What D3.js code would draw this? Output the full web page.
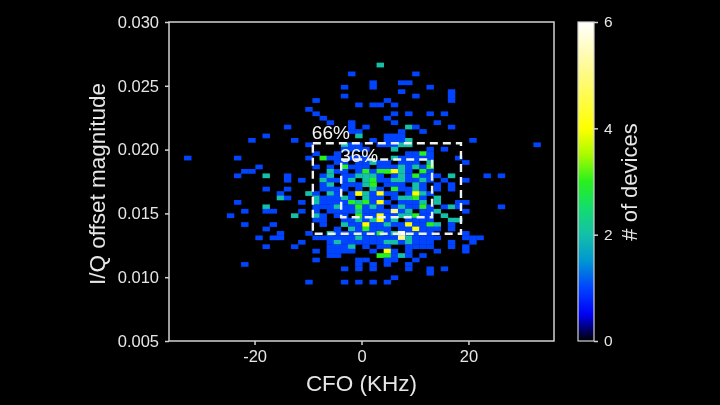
<!DOCTYPE html>
<html>
<head>
<meta charset="utf-8">
<script src="https://cdnjs.cloudflare.com/ajax/libs/d3/7.8.5/d3.min.js"></script>
<style>
  html, body { margin: 0; padding: 0; background: #000; }
  svg { display: block; filter: blur(0.5px); }
  text { font-family: "Liberation Sans", Arial, sans-serif; fill: #e6e6e6; }
</style>
</head>
<body>
<div id="chart"></div>
<script>
// bins: 54 columns over the CFO range, 72 rows over the I/Q range (row 0 is the top)
const colCount = 54;
const rowCount = 72;
const xDomain = [-36, 36];
const yDomain = [0.005, 0.03];
const xTicks = [-20, 0, 20];
const yTicks = [0.005, 0.01, 0.015, 0.02, 0.025, 0.03];
const colorTicks = [0, 2, 4, 6];

// occupied rows, and the columns in each ("col" means 1 device, "col:n" means n)
const rowIndex = [9, 11, 13, 14, 15, 16, 17, 18, 19, 20, 21, 22, 23, 24, 25, 26, 27, 28, 29, 30,
  31, 32, 33, 34, 35, 36, 37, 38, 39, 40, 41, 42, 43, 44, 45, 46, 47, 48, 49, 50, 51, 52, 53, 54, 55, 56, 57, 58];
const rowCells = [
  "29:2",
  "25 34",
  "28 32 33",
  "24 28 36",
  "32 39",
  "24 34 39",
  "20 30 39",
  "26 28 29 31",
  "19",
  "20 31 33 36 38",
  "21 30",
  "22 25 31 37",
  "16 25 27 33:2 34 39",
  "25 26 32 35",
  "13 26:2 30 31 32",
  "11 17 28 30 31 32 33:2 42",
  "19 24:2 25 26 29 30 31 32:2 33:2 51",
  "24 25 26 27 31:2 36 38",
  "20 23 33 34 35:3 36",
  "2 9 19 21:3 22 23 25 26 27 31:2 32 33 34 35 36 40",
  "23 24 26 27 28:2 29 30 32 33 34 36:2 41",
  "12 20 22 24:3 25 26 27 29 30 31 32:2 33 34:2 35 36:3",
  "10 11 22:2 23 24 26 27:3 28 29:3 30:3 31:4 32:2 33 35:3 36",
  "9 13:2 16 21 22:2 24 25 26:2 27:2 28:2 29 31 32:2 33 34:3 35 36 37 39:2 44 46",
  "16 18 21:2 22 23 24 25:2 27:2 28:3 29 30 31:2 32:2 33 34 35:2 36 38 41",
  "21 22:2 24 25 26 27:2 28:3 30 31 32 34:2 35 37 39",
  "13 16 21 22 23 24 26 28:2 29 31:3 32 33 34:2 35 37 39",
  "15 19:2 20 22:2 23 25 26:4 27:2 28 29:4 30 31 33 34:4 35:2 36",
  "15:2 16 20:2 21 22 23 24:2 25 27:2 28 29 31 32:2 33:2 34:3 35 37:2",
  "9 18 20:2 21 22 23 24 25:3 26:2 27:3 28 29:4 30 32 33 34 35:2 37:2 40 41",
  "13:2 20 21 22 23:2 24 25 26:3 27 28:2 29 31 32:2 33 34 35:3 36 38 39:2 40 46",
  "10 13 14 18 20 22 23 24 25 26:2 27 28 29 30 31:5 32 33:2 35 36 37:2 41",
  "8 17:2 20:2 21 23 24 26:3 27 28 29:4 30 31 32:2 33:2 34:3 35 36 38:2",
  "20 21 24 25 26:2 27 28:2 29:4 30 31:2 33 34 35 36 39:2 40:2",
  "10 14 21 24:2 25 26 27:4 28 29 30:2 31 32 33:4 34 35 36:3 37:2 39",
  "13 23 25:2 26 27:3 28 29 30 32 33 34:4 35 36 37 39",
  "15 19 22:2 23 24 25 26 27 28 29:3 30 31:2 32:6 33 34 35 36 41",
  "12 14 15 20 21 22 23 24 25 26:2 27 28 29 30 31 32:5 33:2 34 35 36 37 41 42 43",
  "18 22 23:2 24 25 26 27 28 29 30:2 31:2 32 33:2 34 35 36 39 42",
  "13 17 22 23 24 25:2 27 29 30 33 34 35 36 39 41",
  "20 22 23 24 25 28 30:4 31 33 37 41",
  "22 23 29:3 30:3 31 32:2 33 35",
  "20 26 27 30 31 34",
  "10 26 28 30 33",
  "24 26 28 33 36 38",
  "36",
  "31",
  "19 24 26 28 30"
];

// colormap anchors
const colorStops = [0, 0.5, 1, 1.5, 2, 2.5, 3, 3.5, 4, 5, 6];
const colorValues = ["#000000", "#0000f5", "#0044ff", "#0096d2", "#14c0a8", "#14dc6e", "#28f01e", "#aafa00", "#ffff00", "#fffa82", "#ffffff"];

// the two dashed boxes: [cfo left, cfo right, offset bottom, offset top]
const boxNames = ["66%", "36%"];
const boxOuter = [-9.1, 18.6, 0.0134, 0.0205];
const boxInner = [-3.8, 13.2, 0.0147, 0.01922];
const labelLift = [4, -2.5];

const width = 720;
const height = 405;
const margin = {top: 22, left: 169, bottom: 64, right: 166};

const x = d3.scaleLinear().domain(xDomain).range([margin.left, width - margin.right]);
const y = d3.scaleLinear().domain(yDomain).range([height - margin.bottom, margin.top]);
const color = d3.scaleLinear().domain(colorStops).range(colorValues);

const binW = (xDomain[1] - xDomain[0]) / colCount;
const binH = (yDomain[1] - yDomain[0]) / rowCount;

const cells = [];
rowIndex.forEach((row, i) => {
  rowCells[i].split(" ").forEach(tok => {
    const parts = tok.split(":");
    cells.push({col: +parts[0], row: row, value: parts[1] ? +parts[1] : 1});
  });
});

const svg = d3.select("#chart").append("svg").attr("width", width).attr("height", height);

svg.append("rect").attr("width", width).attr("height", height).attr("fill", "#000");

svg.append("g")
  .selectAll("rect").data(cells).enter().append("rect")
  .attr("x", d => x(xDomain[0] + d.col * binW) + 0.8)
  .attr("y", d => y(yDomain[1] - d.row * binH) + 0.8)
  .attr("width", x(binW) - x(0) + 0.3)
  .attr("height", y(0) - y(binH) + 0.3)
  .attr("fill", d => color(d.value));

// frame
svg.append("rect")
  .attr("x", x.range()[0]).attr("y", y.range()[1])
  .attr("width", x.range()[1] - x.range()[0])
  .attr("height", y.range()[0] - y.range()[1])
  .attr("fill", "none").attr("stroke", "#d2d2d2").attr("stroke-width", 1.5);

const styleAxis = g => {
  g.select(".domain").remove();
  g.selectAll("line").attr("stroke", "#d2d2d2").attr("stroke-width", 1.5);
  g.selectAll("text").attr("font-size", 16.5).style("fill", "#e6e6e6");
};

svg.append("g")
  .attr("transform", `translate(0, ${y.range()[0]})`)
  .call(d3.axisBottom(x).tickValues(xTicks).tickSize(4).tickPadding(5).tickFormat(d => String(d)))
  .call(styleAxis);

svg.append("g")
  .attr("transform", `translate(${margin.left}, 0)`)
  .call(d3.axisLeft(y).tickValues(yTicks).tickSize(4).tickPadding(6).tickFormat(d3.format(".3f")))
  .call(styleAxis);

svg.append("text")
  .attr("x", x(0)).attr("y", 391)
  .attr("text-anchor", "middle").attr("font-size", 22.5)
  .text("CFO (KHz)");

svg.append("text")
  .attr("transform", `translate(105, 184) rotate(-90)`)
  .attr("text-anchor", "middle").attr("font-size", 22.5)
  .text("I/Q offset magnitude");

// dashed boxes and their percentages
[boxOuter, boxInner].forEach((b, i) => {
  svg.append("rect")
    .attr("x", x(b[0])).attr("y", y(b[3]))
    .attr("width", x(b[1]) - x(b[0]))
    .attr("height", y(b[2]) - y(b[3]))
    .attr("fill", "none").attr("stroke", "#f0f0f0")
    .attr("stroke-width", 2.4).attr("stroke-dasharray", "8,5");
  svg.append("text")
    .attr("x", x(b[0]) - 1).attr("y", y(b[3]) - labelLift[i])
    .attr("font-size", 19).style("fill", "#f4f4f4")
    .text(boxNames[i]);
});

// colour bar
const bar = d3.scaleLinear().domain([0, 6]).range([y.range()[0], y.range()[1]]);
const defs = svg.append("defs");
const grad = defs.append("linearGradient").attr("id", "cbar")
  .attr("x1", 0).attr("y1", 1).attr("x2", 0).attr("y2", 0);
grad.selectAll("stop").data(colorStops).enter().append("stop")
  .attr("offset", d => d / 6)
  .attr("stop-color", d => color(d));

svg.append("rect")
  .attr("x", 578).attr("y", bar(6))
  .attr("width", 16).attr("height", bar(0) - bar(6))
  .attr("fill", "url(#cbar)")
  .attr("stroke", "#d2d2d2").attr("stroke-width", 1.2);

svg.append("g")
  .attr("transform", "translate(594, 0)")
  .call(d3.axisRight(bar).tickValues(colorTicks).tickSize(4).tickPadding(6).tickFormat(d => String(d)))
  .call(styleAxis)
  .call(g => g.selectAll("text").attr("font-size", 15.5));

svg.append("text")
  .attr("transform", `translate(637, 182) rotate(-90)`)
  .attr("text-anchor", "middle").attr("font-size", 22)
  .text("# of devices");
</script>
</body>
</html>
